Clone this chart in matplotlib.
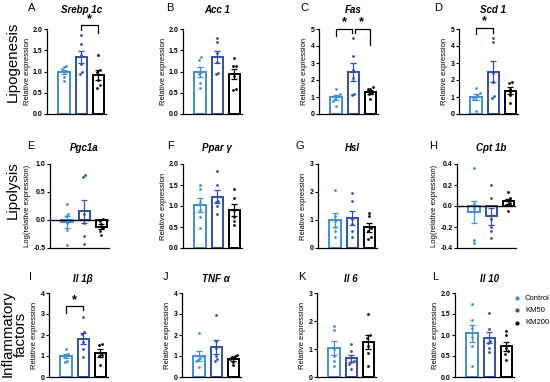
import matplotlib
matplotlib.use('Agg')
import matplotlib.pyplot as plt
import numpy as np

plt.rcParams['font.family'] = ['Liberation Sans', 'DejaVu Sans']

groups = ['Control', 'KM50', 'KM200']
colors = ['#3f8fdb', '#2f4db2', '#000000']

srebp_ctrl = [1.12, 1.10, 1.05, 0.98, 0.88, 0.78]
srebp_k50 = [1.85, 1.65, 1.40, 1.18, 1.00, 0.95]
srebp_k200 = [1.40, 1.03, 0.98, 0.80, 0.68, 0.62]

acc_ctrl = [1.33, 1.27, 1.00, 0.95, 0.72, 0.62]
acc_k50 = [1.79, 1.69, 1.44, 1.22, 0.97, 0.93]
acc_k200 = [1.32, 1.14, 1.13, 0.90, 0.58, 0.57]

fas_ctrl = [1.45, 1.20, 1.05, 0.90, 0.75, 0.50]
fas_k50 = [4.50, 3.40, 2.60, 2.10, 1.20, 1.10]
fas_k200 = [1.56, 1.50, 1.46, 1.26, 1.17, 0.88]

scd_ctrl = [1.55, 1.25, 1.10, 1.00, 0.90, 0.20]
scd_k50 = [4.45, 4.25, 2.40, 1.90, 1.05, 0.95]
scd_k200 = [1.90, 1.80, 1.50, 1.30, 1.10, 0.65]

pgc_ctrl = [0.29, 0.11, 0.07, -0.05, -0.18, -0.44]
pgc_k50 = [0.76, 0.80, 0.11, -0.05, -0.28, -0.42]
pgc_k200 = [0.01, -0.02, -0.08, -0.15, -0.19, -0.27]

ppar_ctrl = [1.49, 1.41, 1.10, 0.90, 0.75, 0.47]
ppar_k50 = [1.83, 1.50, 1.12, 1.10, 1.00, 0.80]
ppar_k200 = [1.40, 1.20, 0.90, 0.75, 0.65, 0.55]

hsl_ctrl = [2.08, 1.14, 0.96, 0.75, 0.61, 0.40]
hsl_k50 = [1.96, 1.67, 1.02, 0.85, 0.61, 0.40]
hsl_k200 = [1.26, 1.14, 0.70, 0.61, 0.38, 0.32]

cpt_ctrl = [0.36, 0.02, -0.02, -0.05, -0.32, -0.35]
cpt_k50 = [0.20, 0.08, -0.12, -0.20, -0.24, -0.30]
cpt_k200 = [0.13, 0.08, 0.06, 0.03, 0.01, -0.05]

il1b_ctrl = [1.33, 1.10, 1.05, 1.02, 0.78, 0.72]
il1b_k50 = [2.85, 2.12, 2.07, 1.65, 1.33, 0.97]
il1b_k200 = [1.57, 1.54, 1.05, 0.99, 0.58]

tnf_ctrl = [2.09, 1.02, 0.90, 0.80, 0.74, 0.47]
tnf_k50 = [2.95, 1.73, 1.40, 1.00, 0.85, 0.75]
tnf_k200 = [1.05, 1.02, 0.94, 0.86, 0.70, 0.55]

il6_ctrl = [1.81, 1.69, 0.99, 0.76, 0.58, 0.41]
il6_k50 = [1.17, 0.93, 0.58, 0.55, 0.47, 0.30]
il6_k200 = [2.25, 1.50, 1.40, 1.10, 0.85, 0.41]

il10_ctrl = [1.74, 1.36, 1.17, 0.95, 0.74, 0.27]
il10_k50 = [1.52, 1.14, 0.86, 0.80, 0.70, 0.60]
il10_k200 = [1.10, 1.00, 0.70, 0.62, 0.55, 0.40]

titles = ['Srebp 1c', 'Acc 1', 'Fas', 'Scd 1', 'Pgc1a', 'Ppar γ', 'Hsl', 'Cpt 1b',
          'Il 1β', 'TNF α', 'Il 6', 'Il 10']
letters = list('ABCDEFGHIJKL')
row_labels = ['Lipogenesis', 'Lipolysis', 'Inflammatory\nfactors']

data = [
    (srebp_ctrl, srebp_k50, srebp_k200), (acc_ctrl, acc_k50, acc_k200),
    (fas_ctrl, fas_k50, fas_k200), (scd_ctrl, scd_k50, scd_k200),
    (pgc_ctrl, pgc_k50, pgc_k200), (ppar_ctrl, ppar_k50, ppar_k200),
    (hsl_ctrl, hsl_k50, hsl_k200), (cpt_ctrl, cpt_k50, cpt_k200),
    (il1b_ctrl, il1b_k50, il1b_k200), (tnf_ctrl, tnf_k50, tnf_k200),
    (il6_ctrl, il6_k50, il6_k200), (il10_ctrl, il10_k50, il10_k200),
]
yticks = [
    [0, 0.5, 1.0, 1.5, 2.0], [0, 0.5, 1.0, 1.5, 2.0], [0, 1, 2, 3, 4, 5], [0, 1, 2, 3, 4, 5],
    [-0.5, 0, 0.5, 1.0], [0, 0.5, 1.0, 1.5, 2.0], [0, 1, 2, 3], [-0.4, -0.2, 0, 0.2, 0.4],
    [0, 1, 2, 3, 4], [0, 1, 2, 3, 4], [0, 1, 2, 3], [0, 0.5, 1.0, 1.5, 2.0],
]
ylabels = ['Relative expression'] * 12
ylabels[4] = 'Log(relative expression)'
ylabels[7] = 'Log(relative expression)'

# significance: (panel, group_a, group_b, top, leg_a, leg_b, star_y)
sig = [
    (0, 1, 2, 2.10, 1.98, 1.90, 2.22),
    (2, 0, 0.92, 5.00, 4.60, 4.75, 5.40),
    (2, 1.08, 2, 5.00, 4.75, 4.05, 5.40),
    (3, 0, 1, 5.05, 4.70, 4.75, 5.45),
    (8, 0, 1, 3.37, 3.05, 3.20, 3.65),
]

W, H = 550, 382
fig = plt.figure(figsize=(5.5, 3.82), dpi=100)
fig.patch.set_facecolor('white')

lefts = [47, 183, 319, 459, 50, 183, 318, 457, 49, 182, 317, 455]
rows_px = [(29, 114), (164, 248), (293, 377)]
title_y = [10, 10, 10, 10, 148, 148, 148, 148, 279, 279, 279, 279]
letter_x = [32, 170, 304, 438, 31, 170, 300, 433, 31, 166, 302, 435]
AXW = 59
XMIN, XMAX = -1.0, 2.45


def jitter(vals, thr, step=0.14):
    vals = np.asarray(vals, float)
    order = np.argsort(vals)
    offs = np.zeros(len(vals))
    groups_ = []
    cur = [order[0]]
    for i in order[1:]:
        if abs(vals[i] - vals[cur[-1]]) < thr:
            cur.append(i)
        else:
            groups_.append(cur)
            cur = [i]
    groups_.append(cur)
    for g in groups_:
        k = len(g)
        for j, idx in enumerate(g):
            offs[idx] = (j - (k - 1) / 2) * step
    return offs


for p in range(12):
    r = p // 4
    top, bot = rows_px[r]
    ax = fig.add_axes([lefts[p] / W, 1 - bot / H, AXW / W, (bot - top) / H])
    yt = yticks[p]
    ymin, ymax = yt[0], yt[-1]
    rng = ymax - ymin
    for g in range(3):
        vals = np.array(data[p][g])
        m = vals.mean()
        se = vals.std(ddof=1) / np.sqrt(len(vals))
        ax.bar(g, m, width=0.66, color='white', edgecolor=colors[g], linewidth=1.4, zorder=2)
        ax.errorbar(g, m, yerr=se, fmt='none', ecolor=colors[g], elinewidth=0.9,
                    capsize=2.2, capthick=0.9, zorder=3)
        offs = jitter(vals, 0.035 * rng)
        ax.scatter(g + offs, vals, s=4, color=colors[g], zorder=4, linewidths=0)
    if ymin < 0:
        ax.axhline(0, color='black', lw=1.0, zorder=5)
    ax.set_xlim(XMIN, XMAX)
    ax.set_ylim(ymin, ymax)
    ax.set_yticks(yt)
    if any(isinstance(v, float) for v in yt):
        ax.set_yticklabels(['%.1f' % v for v in yt])
    ax.set_xticks([])
    for s in ['top', 'right']:
        ax.spines[s].set_visible(False)
    for s in ['left', 'bottom']:
        ax.spines[s].set_linewidth(0.9)
    ax.tick_params(axis='y', length=2, width=0.8, pad=1.2, labelsize=5)
    for lab in ax.get_yticklabels():
        lab.set_fontweight('bold')
    ax.set_ylabel(ylabels[p], fontsize=5.5, labelpad=1.5)
    ax.patch.set_alpha(0)
    cx = (lefts[p] + (1 - XMIN) / (XMAX - XMIN) * AXW) / W
    fig.text(cx, 1 - title_y[p] / H, titles[p], fontsize=7, fontweight='bold',
             fontstyle='italic', ha='center', va='center')
    fig.text(letter_x[p] / W, 1 - (title_y[p] - 2) / H, letters[p], fontsize=8,
             ha='center', va='center')

    for (pp, a, b, yb, la, lb, sy) in sig:
        if pp != p:
            continue
        ax.plot([a, a, b, b], [la, yb, yb, lb], color='black', lw=0.9, clip_on=False)
        ax.text((round(a) + round(b)) / 2, sy, '*', fontsize=9, fontweight='bold', ha='center',
                va='center', clip_on=False)

# row labels
fig.text(13 / W, 1 - 62 / H, row_labels[0], rotation=90, fontsize=10.8, ha='center', va='center')
fig.text(13 / W, 1 - 190 / H, row_labels[1], rotation=90, fontsize=10.8, ha='center', va='center')
fig.text(14 / W, 1 - 334 / H, row_labels[2], rotation=90, fontsize=10.8, ha='center',
         va='center', linespacing=0.95)

# legend
for i, (g, c) in enumerate(zip(groups, colors)):
    y = 1 - (298 + i * 12.3) / H
    fig.lines.append(plt.Line2D([517 / W], [y], marker='o', markersize=2, color=c,
                                linestyle='none', transform=fig.transFigure))
    fig.text(525 / W, y, g, fontsize=5.5, ha='left', va='center')

fig.savefig('out.png', dpi=100, facecolor='white')
